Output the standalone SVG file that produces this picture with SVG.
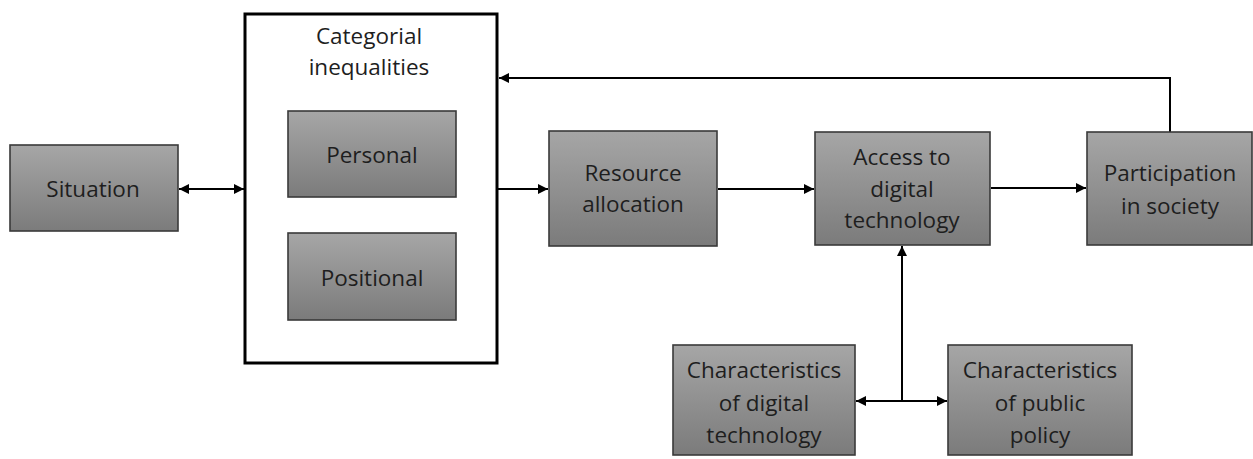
<svg xmlns="http://www.w3.org/2000/svg" width="1253" height="459" viewBox="0 0 1253 459">
<defs>
<linearGradient id="g" x1="0" y1="0" x2="0" y2="1">
<stop offset="0" stop-color="#a6a6a6"/>
<stop offset="1" stop-color="#7b7b7b"/>
</linearGradient>
<marker id="ah" viewBox="0 0 10 10" refX="10" refY="5" markerWidth="5" markerHeight="5" orient="auto-start-reverse">
<path d="M0,0 L10,5 L0,10 z" fill="#000"/>
</marker>
</defs>
<style>
.box{fill:url(#g);stroke:#3a3a3a;stroke-width:1.6}
.t{font-family:"Open Sans","Noto Sans",sans-serif;font-size:22.5px;fill:#1e1e1e;text-anchor:middle}
.c{fill:none;stroke:#000;stroke-width:2}
</style>
<rect width="1253" height="459" fill="#fff"/>
<g id="connectors">
<path class="c" d="M179,189 H244" marker-start="url(#ah)" marker-end="url(#ah)"/>
<path class="c" d="M498,189 H548" marker-end="url(#ah)"/>
<path class="c" d="M718,189 H814" marker-end="url(#ah)"/>
<path class="c" d="M991,188 H1086" marker-end="url(#ah)"/>
<path class="c" d="M1170,132 V78 H499" stroke-width="3" marker-end="url(#ah)"/>
<path class="c" d="M902,401 V246" marker-end="url(#ah)"/>
<path class="c" d="M856,401 H947" marker-start="url(#ah)" marker-end="url(#ah)"/>
</g>
<g id="situation">
<rect class="box" x="10" y="145" width="168" height="86"/>
<text class="t" x="93" y="197">Situation</text>
</g>
<g id="categorial">
<rect x="245" y="14" width="252" height="349" fill="#fff" stroke="#000" stroke-width="3"/>
<text class="t" x="369" y="44">Categorial</text>
<text class="t" x="369" y="75">inequalities</text>
</g>
<g id="personal">
<rect class="box" x="288" y="111" width="168" height="86"/>
<text class="t" x="372" y="163">Personal</text>
</g>
<g id="positional">
<rect class="box" x="288" y="233" width="168" height="87"/>
<text class="t" x="372" y="286">Positional</text>
</g>
<g id="resource">
<rect class="box" x="549" y="131" width="168" height="115"/>
<text class="t" x="633" y="181">Resource</text>
<text class="t" x="633" y="212">allocation</text>
</g>
<g id="access">
<rect class="box" x="815" y="132" width="175" height="113"/>
<text class="t" x="902" y="165">Access to</text>
<text class="t" x="902" y="197">digital</text>
<text class="t" x="902" y="228">technology</text>
</g>
<g id="participation">
<rect class="box" x="1087" y="132" width="165" height="113"/>
<text class="t" x="1170" y="181">Participation</text>
<text class="t" x="1170" y="214">in society</text>
</g>
<g id="chardigital">
<rect class="box" x="673" y="345" width="182" height="110"/>
<text class="t" x="764" y="378">Characteristics</text>
<text class="t" x="764" y="411">of digital</text>
<text class="t" x="764" y="443">technology</text>
</g>
<g id="charpolicy">
<rect class="box" x="948" y="345" width="184" height="110"/>
<text class="t" x="1040" y="378">Characteristics</text>
<text class="t" x="1040" y="411">of public</text>
<text class="t" x="1040" y="443">policy</text>
</g>
</svg>
